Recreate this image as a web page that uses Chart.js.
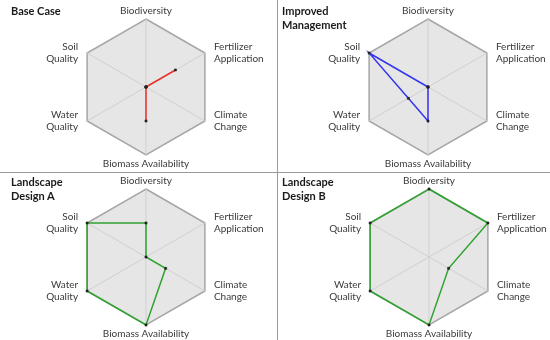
<!DOCTYPE html>
<html>
<head>
<meta charset="utf-8">
<script src="https://cdn.jsdelivr.net/npm/chart.js"></script>
<style>
  body { margin: 0; background: #fff; }
  #wrap { position: relative; width: 550px; height: 340px; overflow: hidden; }
  canvas { position: absolute; }
  .title { position: absolute; font: bold 11px Lato, sans-serif; line-height: 13.5px; color: #1a1a1a; }
  .vline { position: absolute; left: 277px; top: 0; width: 1px; height: 340px; background: #9a9a9a; }
  .hline { position: absolute; left: 0; top: 172px; width: 550px; height: 1px; background: #9a9a9a; }
</style>
</head>
<body>
<div id="wrap">
  <canvas id="c1" width="275" height="170" style="left:0;top:0"></canvas>
  <canvas id="c2" width="275" height="170" style="left:275px;top:0"></canvas>
  <canvas id="c3" width="275" height="170" style="left:0;top:170px"></canvas>
  <canvas id="c4" width="275" height="170" style="left:275px;top:170px"></canvas>
  <div class="vline"></div>
  <div class="hline"></div>
  <div class="title" style="left:11px;top:4px">Base Case</div>
  <div class="title" style="left:282px;top:4px">Improved<br>Management</div>
  <div class="title" style="left:11px;top:175px">Landscape<br>Design A</div>
  <div class="title" style="left:282px;top:175px">Landscape<br>Design B</div>
</div>
<script>
// Achsen (Reihenfolge im Uhrzeigersinn ab oben)
const categories = [
    ['Biodiversity'],
    ['Fertilizer', 'Application'],
    ['Climate', 'Change'],
    ['Biomass Availability'],
    ['Water', 'Quality'],
    ['Soil', 'Quality']
];

// Werte je Szenario (Skala 0 bis 6)
const baseCase = [0, 3, 0, 3, 0, 0];
const improvedManagement = [0, 0, 0, 3, 2, 6];
const landscapeDesignA = [3, 0, 2, 6, 6, 6];
const landscapeDesignB = [6, 6, 2, 6, 6, 6];

const R = 68;

// Beschriftung der Achsen selbst zeichnen, damit seitliche Labels mittig zur Ecke stehen
const axisLabels = {
    id: 'axisLabels',
    afterDraw(chart) {
        const scale = chart.scales.r;
        const ctx = chart.ctx;
        const lh = 12;
        ctx.save();
        ctx.font = '10px Lato, sans-serif';
        ctx.fillStyle = '#3a3a3a';
        ctx.textBaseline = 'middle';
        categories.forEach((lines, i) => {
            const p = scale.getPointPosition(i, scale.drawingArea);
            const h = lines.length * lh;
            let x = p.x, top, align = 'center';
            if (i === 0) {
                top = p.y - 2 - h;
            } else if (i === 3) {
                top = p.y + 3;
            } else {
                top = p.y - h / 2;
                align = i < 3 ? 'left' : 'right';
                x += i < 3 ? 9 : -9;
            }
            ctx.textAlign = align;
            lines.forEach((t, k) => ctx.fillText(t, x, top + lh * k + lh / 2));
        });
        ctx.restore();
    }
};

function makeRadar(id, values, color, cx, cy) {
    const W = 275, H = 170;
    new Chart(document.getElementById(id), {
        type: 'radar',
        data: {
            labels: categories.map(l => l.join(' ')),
            datasets: [{
                data: values,
                borderColor: color,
                borderWidth: 1.5,
                fill: false,
                pointStyle: 'rect',
                pointRadius: 1.5,
                pointBackgroundColor: '#222',
                pointBorderColor: '#222',
                pointBorderWidth: 0.5,
                tension: 0,
                clip: false
            }]
        },
        options: {
            responsive: false,
            animation: false,
            layout: {
                padding: { left: cx - R, right: W - cx - R, top: cy - R, bottom: H - cy - R }
            },
            plugins: {
                legend: { display: false },
                tooltip: { enabled: false }
            },
            scales: {
                r: {
                    min: 0,
                    max: 6,
                    backgroundColor: '#e6e6e6',
                    ticks: { display: false, stepSize: 6 },
                    grid: { color: '#a6a6a6', lineWidth: 1.5 },
                    angleLines: { color: '#d0d0d0', lineWidth: 1 },
                    pointLabels: { display: false }
                }
            }
        },
        plugins: [axisLabels]
    });
}

makeRadar('c1', baseCase, '#e8302c', 146, 87);
makeRadar('c2', improvedManagement, '#3535f0', 153, 87);
makeRadar('c3', landscapeDesignA, '#2fa32f', 146, 87);
makeRadar('c4', landscapeDesignB, '#2fa32f', 154, 87);
</script>
</body>
</html>
